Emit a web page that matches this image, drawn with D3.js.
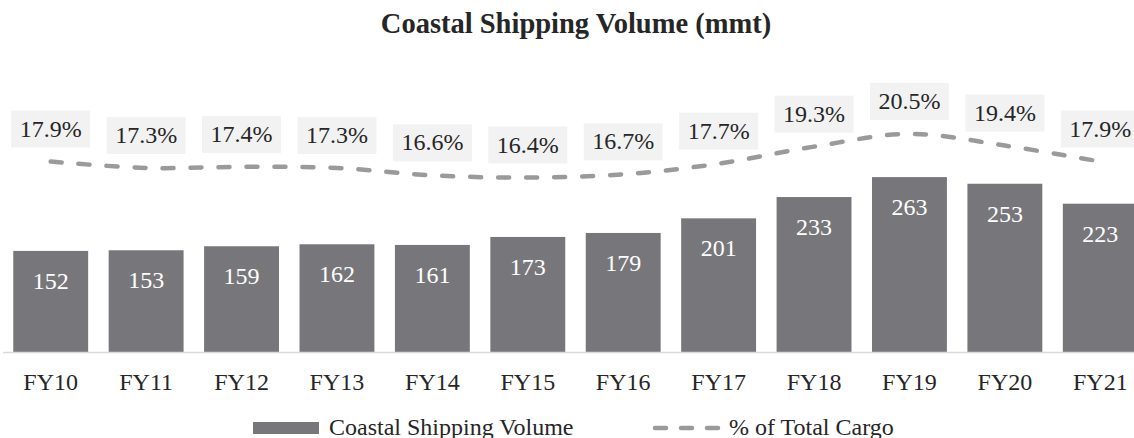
<!DOCTYPE html>
<html>
<head>
<meta charset="utf-8">
<script src="https://cdn.jsdelivr.net/npm/d3@7"></script>
<style>
  html, body { margin: 0; padding: 0; background: #fff; }
  svg { display: block; }
</style>
</head>
<body>
<svg id="chart" width="1134" height="438" font-family="Liberation Serif, Times New Roman, serif"></svg>
<script>
// Fiscal years on the category axis
const categories = ["FY10", "FY11", "FY12", "FY13", "FY14", "FY15", "FY16", "FY17", "FY18", "FY19", "FY20", "FY21"];
// Coastal shipping volume, million metric tonnes
const volume = [152, 153, 159, 162, 161, 173, 179, 201, 233, 263, 253, 223];
// Coastal share of total cargo, percent
const shareOfCargo = [17.9, 17.3, 17.4, 17.3, 16.6, 16.4, 16.7, 17.7, 19.3, 20.5, 19.4, 17.9];

const FONT = "Liberation Serif, Times New Roman, serif";
const svg = d3.select("#chart");
const W = 1134, H = 438;
const baseY = 352, topY = 86;

const x = d3.scaleBand()
  .domain(categories)
  .range([3, 1148])
  .paddingInner(0.215)
  .paddingOuter(0.1075);

const yVol = d3.scaleLinear().domain([0, 400]).range([baseY, topY]);
const yPct = d3.scaleLinear().domain([0, 25]).range([baseY, topY]);

const barColor = "#77777b";
const lineColor = "#9a9a9c";
const textColor = "#262626";

// Title
svg.append("text")
  .attr("x", 576).attr("y", 33)
  .attr("text-anchor", "middle")
  .attr("font-family", FONT)
  .attr("font-size", 28.5).attr("font-weight", "bold")
  .attr("fill", textColor)
  .text("Coastal Shipping Volume (mmt)");

// Bars
svg.append("g").selectAll("rect")
  .data(volume)
  .join("rect")
  .attr("x", (d, i) => x(categories[i]))
  .attr("y", d => yVol(d))
  .attr("width", x.bandwidth())
  .attr("height", d => yVol(0) - yVol(d))
  .attr("fill", barColor);

// Bar value labels (inside end)
svg.append("g").selectAll("text")
  .data(volume)
  .join("text")
  .attr("x", (d, i) => x(categories[i]) + x.bandwidth() / 2)
  .attr("y", d => yVol(d) + 38)
  .attr("text-anchor", "middle")
  .attr("font-family", FONT)
  .attr("font-size", 24)
  .attr("fill", "#ffffff")
  .text(d => d);

// Category axis
const xAxis = svg.append("g")
  .attr("transform", `translate(0,${baseY})`)
  .call(d3.axisBottom(x).tickSize(0).tickPadding(0));
xAxis.attr("font-family", FONT);
xAxis.select(".domain").remove();
xAxis.append("line")
  .attr("x1", 3).attr("x2", W)
  .attr("y1", 0.5).attr("y2", 0.5)
  .attr("stroke", "#d9d9d9").attr("stroke-width", 1.5);
xAxis.selectAll(".tick text")
  .attr("y", 38).attr("dy", null)
  .attr("font-size", 24)
  .attr("font-family", FONT)
  .attr("fill", textColor);

// Share-of-cargo smoothed dashed line
const line = d3.line()
  .x((d, i) => x(categories[i]) + x.bandwidth() / 2)
  .y(d => yPct(d))
  .curve(d3.curveCatmullRom.alpha(0));

svg.append("path")
  .datum(shareOfCargo)
  .attr("d", line)
  .attr("fill", "none")
  .attr("stroke", lineColor)
  .attr("stroke-width", 4.5)
  .attr("stroke-linecap", "round")
  .attr("stroke-dasharray", "11 17");

// Percentage labels in shaded boxes above each point
const pctLabels = svg.append("g").selectAll("g")
  .data(shareOfCargo)
  .join("g")
  .attr("transform", (d, i) => `translate(${x(categories[i]) + x.bandwidth() / 2},${yPct(d)})`);

pctLabels.append("rect")
  .attr("x", -39.5).attr("y", -51)
  .attr("width", 79).attr("height", 37)
  .attr("fill", "#f2f2f3");

pctLabels.append("text")
  .attr("x", 0).attr("y", -25)
  .attr("text-anchor", "middle")
  .attr("font-family", FONT)
  .attr("font-size", 24)
  .attr("fill", textColor)
  .text(d => d.toFixed(1) + "%");

// Legend
const legend = svg.append("g");
legend.append("rect")
  .attr("x", 253).attr("y", 422)
  .attr("width", 66).attr("height", 12)
  .attr("fill", barColor);
legend.append("text")
  .attr("x", 329).attr("y", 435)
  .attr("font-family", FONT)
  .attr("font-size", 24)
  .attr("fill", textColor)
  .text("Coastal Shipping Volume");

legend.append("line")
  .attr("x1", 655).attr("x2", 719)
  .attr("y1", 428).attr("y2", 428)
  .attr("stroke", lineColor)
  .attr("stroke-width", 4.5)
  .attr("stroke-linecap", "round")
  .attr("stroke-dasharray", "11 15");
legend.append("text")
  .attr("x", 729).attr("y", 435)
  .attr("font-family", FONT)
  .attr("font-size", 24)
  .attr("fill", textColor)
  .text("% of Total Cargo");
</script>
</body>
</html>
